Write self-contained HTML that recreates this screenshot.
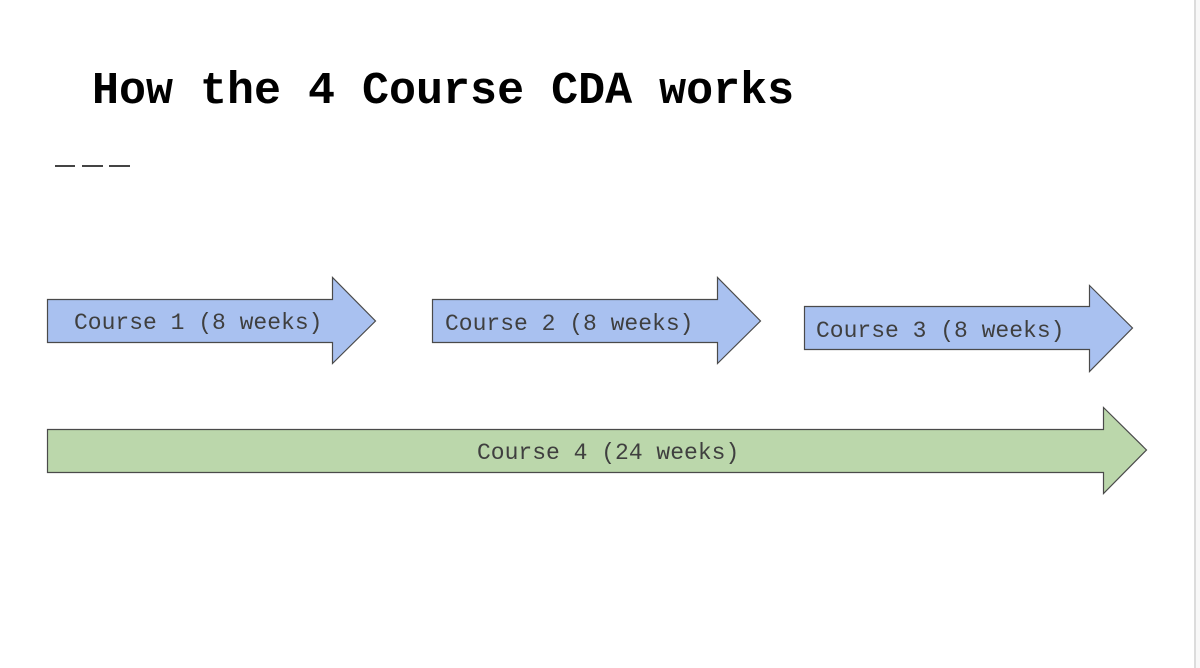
<!DOCTYPE html>
<html>
<head>
<meta charset="utf-8">
<style>
  html, body { margin:0; padding:0; background:#ffffff; }
  body { width:1200px; height:668px; overflow:hidden; position:relative; }
  svg { position:absolute; left:0; top:0; }
</style>
</head>
<body>
<svg width="1200" height="668" viewBox="0 0 1200 668" xmlns="http://www.w3.org/2000/svg">
  <rect x="0" y="0" width="1200" height="668" fill="#ffffff"/>
  <rect x="1196" y="0" width="4" height="668" fill="#f8f8f8"/>
  <rect x="1194" y="0" width="2" height="668" fill="#dcdcdc"/>

  <text x="92" y="103" font-family="Liberation Mono, monospace" font-weight="bold" font-size="45" fill="#000">How the 4 Course CDA works</text>

  <rect x="55" y="165" width="20" height="2" fill="#444"/>
  <rect x="82" y="165" width="21" height="2" fill="#444"/>
  <rect x="109" y="165" width="21" height="2" fill="#444"/>

  <g stroke="#4a4a4a" stroke-width="1.2" stroke-linejoin="miter">
    <polygon points="47.5,299.5 332.5,299.5 332.5,277.5 375.5,321 332.5,363.5 332.5,342.5 47.5,342.5" fill="#a9c1f0"/>
    <polygon points="432.5,299.5 717.5,299.5 717.5,277.5 760.5,321 717.5,363.5 717.5,342.5 432.5,342.5" fill="#a9c1f0"/>
    <polygon points="804.5,306.5 1089.5,306.5 1089.5,285.5 1132.5,328 1089.5,371.5 1089.5,349.5 804.5,349.5" fill="#a9c1f0"/>
    <polygon points="47.5,429.5 1103.5,429.5 1103.5,407.5 1146.5,450 1103.5,493.5 1103.5,472.5 47.5,472.5" fill="#bbd7ab"/>
  </g>

  <g font-family="Liberation Mono, monospace" font-size="23" fill="#3f3f3f">
    <text x="74" y="329">Course 1 (8 weeks)</text>
    <text x="445" y="330">Course 2 (8 weeks)</text>
    <text x="816" y="337">Course 3 (8 weeks)</text>
    <text x="477" y="459">Course 4 (24 weeks)</text>
  </g>
</svg>
</body>
</html>
